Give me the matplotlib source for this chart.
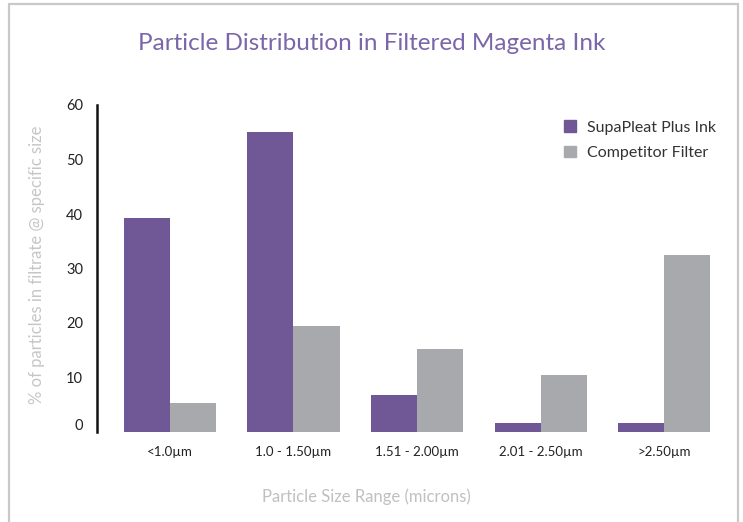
import matplotlib
matplotlib.use('Agg')
import matplotlib.pyplot as plt
import matplotlib.transforms as mtransforms
from matplotlib.patches import Rectangle, Patch
import numpy as np

##########################
categories=['<1.0µm','1.0 - 1.50µm','1.51 - 2.00µm','2.01 - 2.50µm','>2.50µm']
supapleat=[39.3,55.0,6.8,1.65,1.65]   # % of particles, purple bars
competitor=[5.4,19.4,15.2,10.5,32.5] # % of particles, gray bars
series_names=['SupaPleat Plus Ink','Competitor Filter']
yticks=[0,10,20,30,40,50,60]
purple='#6f5895'
gray='#a8a9ac'
#######################
plt.rcParams['font.family']=['Lato','DejaVu Sans']

fig=plt.figure(figsize=(7.43,5.22),dpi=100)
# light frame round the chart
fig.patches.append(Rectangle((9/743.,-0.1),729/743.,1-4/522.+0.1,transform=fig.transFigure,
                             fill=False,edgecolor='#c9c9c9',linewidth=1.6))

ax=fig.add_axes([97/743.,1-432/522.,(726-97)/743.,(432-105)/522.])
x=np.arange(len(categories))
w=0.373
ax.bar(x-w/2,supapleat,w,color=purple,label=series_names[0])
ax.bar(x+w/2,competitor,w,color=gray,label=series_names[1])

ax.set_xlim(-0.59,4.5)
ax.set_ylim(0,60)
ax.set_yticks(yticks)
ax.set_yticklabels([str(v) for v in yticks],fontsize=10.5,color='#222222')
ax.set_xticks(x)
ax.set_xticklabels(categories,fontsize=9.5,color='#222222')
ax.tick_params(axis='both',length=0)
ax.tick_params(axis='y',pad=10)
ax.tick_params(axis='x',pad=10)
for s in ['top','right','bottom']:
    ax.spines[s].set_visible(False)
ax.spines['left'].set_linewidth(1.8)
ax.spines['left'].set_color('#111111')

# the "0" label sits a bit above the baseline in the original
lab0=ax.get_yticklabels()[0]
lab0.set_transform(lab0.get_transform()+mtransforms.ScaledTranslation(0,8/100.,fig.dpi_scale_trans))

fig.text(372/743.,1-44/522.,'Particle Distribution in Filtered Magenta Ink',ha='center',va='center',
         fontsize=17.5,color='#7a66a8')
fig.text(37/743.,1-265/522.,'% of particles in filtrate @ specific size',rotation=90,ha='center',va='center',
         fontsize=12,color='#c6c6c6')
fig.text(366/743.,1-497/522.,'Particle Size Range (microns)',ha='center',va='center',
         fontsize=12,color='#c0c0c0')

handles=[Patch(color=purple),Patch(color=gray)]
leg=fig.legend(handles,series_names,loc='upper left',bbox_to_anchor=(550/743.,1-106/522.),
               frameon=False,fontsize=11.5,handlelength=0.7,handleheight=0.7,handletextpad=0.7,
               labelspacing=0.7,labelcolor='#333333')

plt.savefig('out.png',dpi=100)
